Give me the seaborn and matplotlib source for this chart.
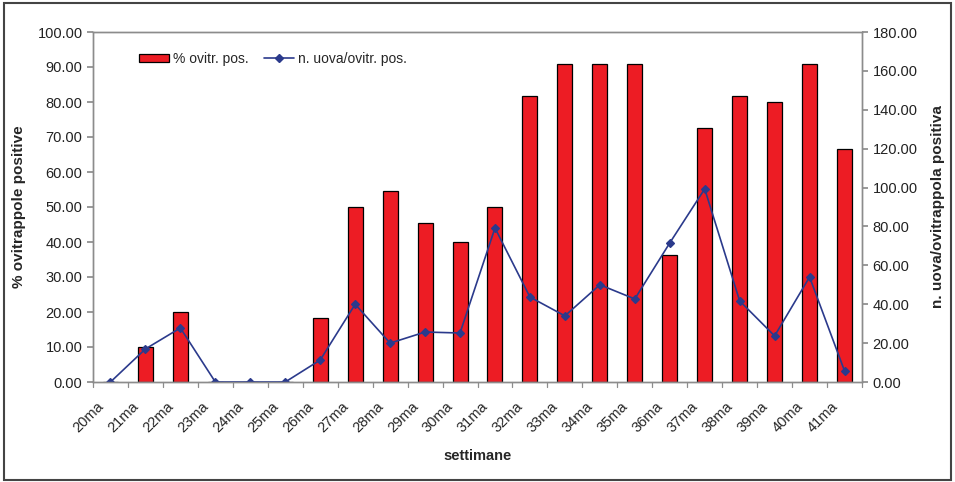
import matplotlib
matplotlib.use("Agg")
import matplotlib.pyplot as plt
import matplotlib.transforms as mtransforms
from matplotlib.patches import Rectangle
from matplotlib.lines import Line2D
import seaborn as sns
import pandas as pd

weeks = ["20ma", "21ma", "22ma", "23ma", "24ma", "25ma", "26ma", "27ma", "28ma", "29ma", "30ma",
         "31ma", "32ma", "33ma", "34ma", "35ma", "36ma", "37ma", "38ma", "39ma", "40ma", "41ma"]
pct_positive = [0, 10.0, 20.0, 0, 0, 0, 18.2, 50.0, 54.5, 45.5, 40.0,
                50.0, 81.8, 90.9, 90.9, 90.9, 36.4, 72.7, 81.8, 80.0, 90.9, 66.7]
eggs_per_trap = [0, 17.0, 27.8, 0, 0, 0, 11.3, 40.0, 20.0, 25.7, 25.2,
                 79.2, 43.7, 34.0, 50.0, 42.7, 71.5, 99.3, 41.7, 23.7, 54.0, 5.7]

df = pd.DataFrame({"week": weeks, "pct": pct_positive, "eggs": eggs_per_trap})

sns.set_theme(style="white")
plt.rcParams["font.family"] = ["Liberation Sans", "DejaVu Sans"]

RED = "#ed1c24"
NAVY = "#2b3a8c"
GREY = "#8c8c8c"

fig = plt.figure(figsize=(9.55, 4.82), dpi=100)
ax = fig.add_axes([93 / 955, 1 - 382 / 482, (862 - 93) / 955, 350 / 482])

sns.barplot(data=df, x="week", y="pct", color=RED, width=0.43, edgecolor="black",
            linewidth=0.9, saturation=1, ax=ax)
ax.set_ylim(0, 100)
ax.set_xlim(-0.5, len(weeks) - 0.5)
ax.set_yticks(range(0, 101, 10))
ax.set_yticklabels([f"{v:.2f}" for v in range(0, 101, 10)], fontsize=10.5, color="#222222")
ax.set_ylabel("% ovitrappole positive", fontsize=11, fontweight="bold", labelpad=8)
ax.set_xlabel("settimane", fontsize=10.5, fontweight="bold", labelpad=10)
ax.set_xticks(range(len(weeks)))
ax.set_xticklabels(weeks, rotation=45, ha="right", rotation_mode="anchor", fontsize=10.5)
ax.tick_params(axis="x", length=0, pad=4)
shift = mtransforms.ScaledTranslation(-14 / 100, -12 / 100, fig.dpi_scale_trans)
for lbl in ax.get_xticklabels():
    lbl.set_transform(lbl.get_transform() + shift)
ax.tick_params(axis="y", length=4, color=GREY, left=True)
for x in range(len(weeks) + 1):
    ax.plot([x - 0.5, x - 0.5], [-1.3, 0], color=GREY, lw=0.9, clip_on=False, zorder=1)

ax2 = ax.twinx()
sns.pointplot(data=df, x="week", y="eggs", color=NAVY, markers="D", markersize=4.5,
              linewidth=1.2, ax=ax2)
ax2.set_ylim(0, 180)
ax2.set_xlim(-0.5, len(weeks) - 0.5)
ax2.set_yticks(range(0, 181, 20))
ax2.set_yticklabels([f"{v:.2f}" for v in range(0, 181, 20)], fontsize=10.5, color="#222222")
ax2.set_ylabel("n. uova/ovitrappola positiva", fontsize=11, fontweight="bold", labelpad=10)
ax2.tick_params(axis="y", length=4, color=GREY, right=True)
ax2.set_xlabel("")

for a in (ax, ax2):
    for s in a.spines.values():
        s.set_color(GREY)
        s.set_linewidth(1.0)

handles = [Rectangle((0, 0), 1, 1, facecolor=RED, edgecolor="black", linewidth=0.9),
           Line2D([], [], color=NAVY, marker="D", markersize=4, linewidth=1.2)]
ax2.legend(handles, ["% ovitr. pos.", "n. uova/ovitr. pos."], loc="upper left",
           bbox_to_anchor=(0.045, 0.975), ncol=2, frameon=False, fontsize=10,
           handlelength=2.2, handleheight=0.6, handletextpad=0.25, columnspacing=1.1,
           borderpad=0.3)

fig.patches.append(Rectangle((0.004, 0.004), 0.992, 0.99, transform=fig.transFigure,
                             fill=False, edgecolor="#444444", linewidth=1.5))

fig.savefig("out.png", dpi=100)
